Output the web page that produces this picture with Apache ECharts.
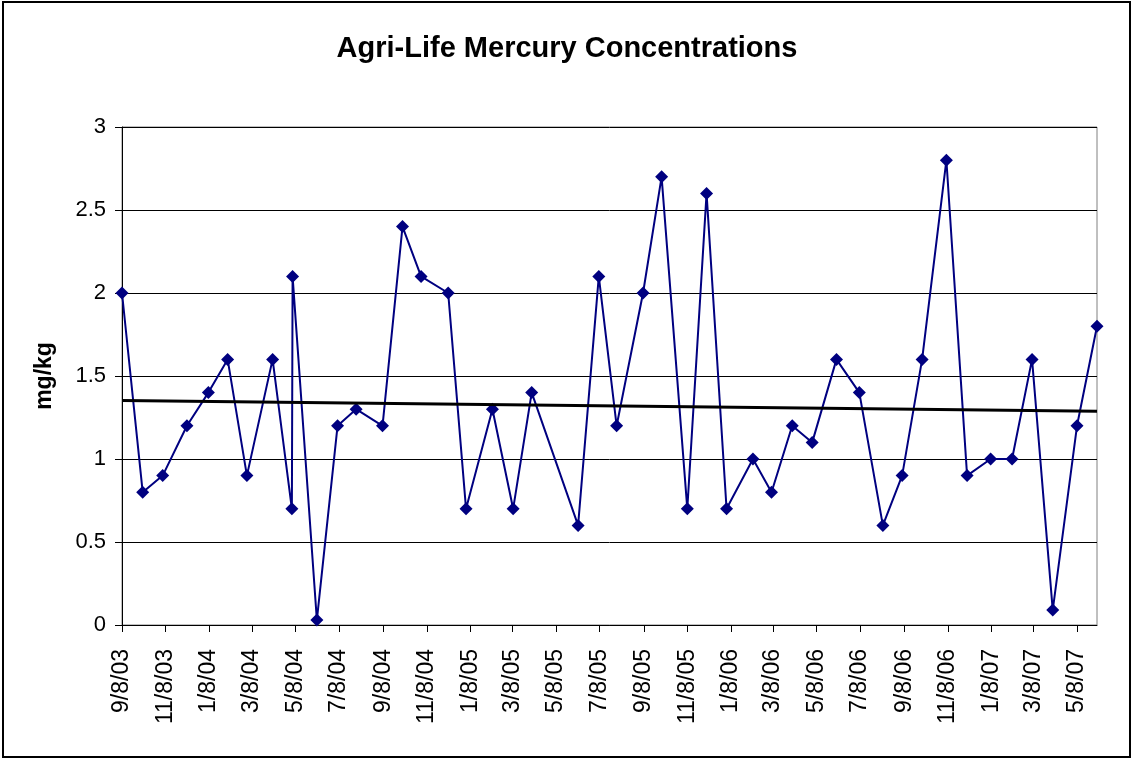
<!DOCTYPE html>
<html>
<head>
<meta charset="utf-8">
<title>Agri-Life Mercury Concentrations</title>
<script src="https://cdn.jsdelivr.net/npm/echarts@6/dist/echarts.min.js"></script>
<style>
  html, body { margin: 0; padding: 0; background: #fff; }
  #chart { width: 1134px; height: 761px; }
</style>
</head>
<body>
<div id="chart"></div>
<script>
// sample dates (M/D/YY) and mercury values, mg/kg
var sampleDates = [
  '9/8/03', '10/7/03', '11/4/03', '12/8/03', '1/7/04', '2/3/04', '3/1/04', '4/6/04',
  '5/3/04', '5/4/04', '6/7/04', '7/6/04', '8/1/04', '9/7/04', '10/5/04', '10/31/04',
  '12/8/04', '1/2/05', '2/8/05', '3/9/05', '4/4/05', '6/8/05', '7/7/05', '8/1/05',
  '9/7/05', '10/3/05', '11/8/05', '12/5/05', '1/2/06', '2/8/06', '3/6/06', '4/4/06',
  '5/2/06', '6/5/06', '7/7/06', '8/9/06', '9/5/06', '10/3/06', '11/6/06', '12/5/06',
  '1/7/07', '2/6/07', '3/6/07', '4/4/07', '5/8/07', '6/5/07'
];
var mercury = [
  2.0, 0.8, 0.9, 1.2, 1.4, 1.6, 0.9, 1.6,
  0.7, 2.1, 0.03, 1.2, 1.3, 1.2, 2.4, 2.1,
  2.0, 0.7, 1.3, 0.7, 1.4, 0.6, 2.1, 1.2,
  2.0, 2.7, 0.7, 2.6, 0.7, 1.0, 0.8, 1.2,
  1.1, 1.6, 1.4, 0.6, 0.9, 1.6, 2.8, 0.9,
  1.0, 1.0, 1.6, 0.09, 1.2, 1.8
];
var tickLabels = [
  '9/8/03', '11/8/03', '1/8/04', '3/8/04', '5/8/04', '7/8/04', '9/8/04', '11/8/04',
  '1/8/05', '3/8/05', '5/8/05', '7/8/05', '9/8/05', '11/8/05', '1/8/06', '3/8/06',
  '5/8/06', '7/8/06', '9/8/06', '11/8/06', '1/8/07', '3/8/07', '5/8/07'
];

// dates are kept as whole days (UTC) so the value axis is linear in time
function parseDate(s) {
  var p = s.split('/');
  return Date.UTC(2000 + Number(p[2]), Number(p[0]) - 1, Number(p[1])) / 86400000;
}
function fmtDate(v) {
  var d = new Date(Math.round(v) * 86400000);
  var yy = d.getUTCFullYear() % 100;
  return (d.getUTCMonth() + 1) + '/' + d.getUTCDate() + '/' + (yy < 10 ? '0' + yy : yy);
}

var days = sampleDates.map(parseDate);
var ticks = tickLabels.map(parseDate);
var points = [];
for (var i = 0; i < days.length; i++) {
  points.push([days[i], mercury[i]]);
}

// linear trendline (least squares)
var n = days.length, sx = 0, sy = 0, sxx = 0, sxy = 0;
for (var i = 0; i < n; i++) {
  sx += days[i]; sy += mercury[i];
  sxx += days[i] * days[i]; sxy += days[i] * mercury[i];
}
var slope = (n * sxy - sx * sy) / (n * sxx - sx * sx);
var icpt = (sy - slope * sx) / n;
var dMin = days[0], dMax = days[n - 1];
var trend = [[dMin, icpt + slope * dMin], [dMax, icpt + slope * dMax]];

var font = '"Liberation Sans", Arial, sans-serif';
var chart = echarts.init(document.getElementById('chart'));
chart.setOption({
  animation: false,
  backgroundColor: '#fff',
  title: {
    text: 'Agri-Life Mercury Concentrations',
    left: 'center',
    top: 29,
    textStyle: { fontFamily: font, fontSize: 29, fontWeight: 'bold', color: '#000' }
  },
  graphic: [{
    type: 'rect',
    shape: { x: 3, y: 2, width: 1127, height: 755 },
    style: { fill: null, stroke: '#000', lineWidth: 2 },
    silent: true
  }],
  grid: {
    left: 122, right: 37, top: 127, bottom: 136,
    show: true, borderColor: '#808080', borderWidth: 1
  },
  xAxis: {
    type: 'value',
    min: dMin,
    max: dMax,
    axisLine: { lineStyle: { color: '#000', width: 1 } },
    axisTick: { show: true, length: 7, customValues: ticks, lineStyle: { color: '#000' } },
    splitLine: { show: false },
    axisLabel: {
      customValues: ticks,
      rotate: 90,
      margin: 24,
      hideOverlap: false,
      fontFamily: font,
      fontSize: 23,
      color: '#000',
      formatter: function (v) { return fmtDate(v); }
    }
  },
  yAxis: {
    type: 'value',
    min: 0,
    max: 3,
    interval: 0.5,
    name: 'mg/kg',
    nameLocation: 'middle',
    nameGap: 66,
    nameTextStyle: { fontFamily: font, fontSize: 23, fontWeight: 'bold', color: '#000' },
    axisLine: { show: true, lineStyle: { color: '#000', width: 1 } },
    axisTick: { show: true, length: 7, lineStyle: { color: '#000' } },
    splitLine: { lineStyle: { color: '#000', width: 1 } },
    axisLabel: { fontFamily: font, fontSize: 22, color: '#000', margin: 16 }
  },
  series: [
    {
      name: 'Mercury',
      type: 'line',
      data: points,
      symbol: 'diamond',
      symbolSize: 13,
      showAllSymbol: true,
      itemStyle: { color: '#000080' },
      lineStyle: { color: '#000080', width: 2 },
      z: 3
    },
    {
      name: 'Trend',
      type: 'line',
      data: trend,
      symbol: 'none',
      lineStyle: { color: '#000', width: 3 },
      z: 4
    }
  ]
});

window.onresize = function () {
  chart.resize();
};
</script>
</body>
</html>
